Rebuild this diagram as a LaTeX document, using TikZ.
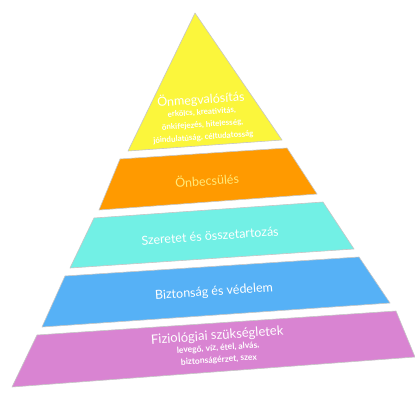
\documentclass[tikz,border=0pt]{standalone}
\usepackage{fontspec}
\setmainfont{Lato}
\usetikzlibrary{positioning}
\definecolor{peakyellow}{HTML}{FBF63C}
\definecolor{esteemorange}{HTML}{FF9A00}
\definecolor{loveteal}{HTML}{72F0E5}
\definecolor{safeblue}{HTML}{56B1F6}
\definecolor{basemauve}{HTML}{D984D2}
\definecolor{paleyellow}{HTML}{FFEA7A}
\tikzset{
  layer/.style={draw=gray!45,line width=0.6pt,line join=round},
  tiertext/.style={text=white,align=center,rotate=4,inner sep=1pt},
  bigtitle/.style={font=\fontsize{12.5}{14}\selectfont}
}
\begin{document}
\begin{tikzpicture}[x=1pt,y=-1pt]
    \useasboundingbox (0,0) rectangle (415,415);

    % pyramid layers, top to bottom
    \fill[white] (0,0) rectangle (415,415);
    \draw[layer,fill=peakyellow] (195,13) -- (282,140) -- (128,151) -- cycle;
    \draw[layer,fill=esteemorange] (120,159) -- (287,148) -- (317,194) -- (99,210) -- cycle;
    \draw[layer,fill=loveteal] (94,218) -- (323,202) -- (354,249) -- (70,268) -- cycle;
    \draw[layer,fill=safeblue] (65,276) -- (359,257) -- (390,303) -- (42,327) -- cycle;
    \draw[layer,fill=basemauve] (37,335) -- (396,311) -- (415,357) -- (12,387) -- cycle;

    \node[tiertext,font=\fontsize{8}{10}\selectfont\bfseries] (selfact) at (202,117)
      {{\fontsize{12.5}{12}\selectfont\mdseries Önmegvalósítás}\\[1pt]
      erkölcs, kreativitás,\\[2.5pt]
      önkifejezés, hitelesség,\\[2.5pt]
      jóindulatúság, céltudatosság};
    \node[tiertext,bigtitle,text=paleyellow] (esteem) at (207,180) {Önbecsülés};
    \node[tiertext,bigtitle] (belong) at (210,236) {Szeretet és összetartozás};
    \node[tiertext,bigtitle] (safety) at (214,292) {Biztonság és védelem};
    \node[tiertext,font=\fontsize{8.5}{10}\selectfont\bfseries] (physio) at (218,347)
      {{\fontsize{13}{12}\selectfont\mdseries Fiziológiai szükségletek}\\[1pt]
      levegő, víz, étel, alvás,\\[2pt]
      biztonságérzet, szex};
\end{tikzpicture}
\end{document}
